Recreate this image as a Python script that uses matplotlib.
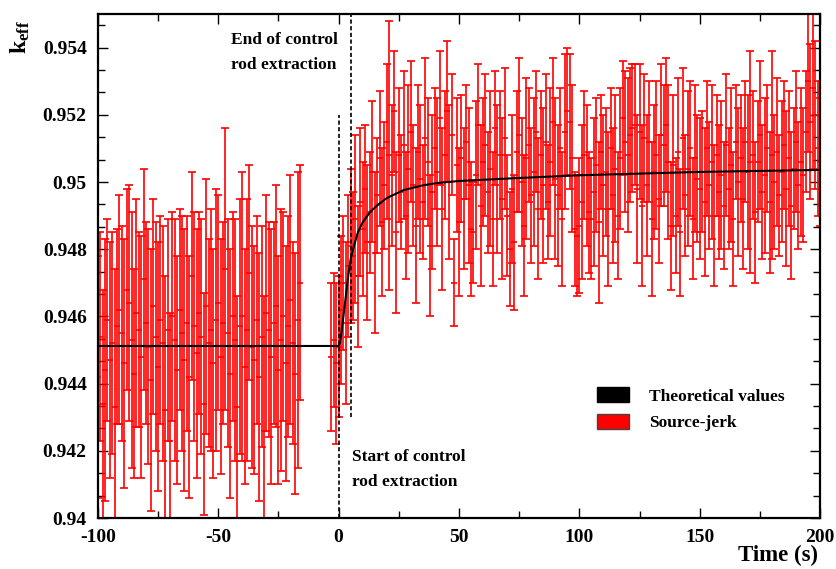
import numpy as np
import matplotlib
matplotlib.use("Agg")
import matplotlib.pyplot as plt
from matplotlib.patches import Patch
from matplotlib.ticker import MultipleLocator, FixedLocator

plt.rcParams['font.family'] = ['Liberation Serif', 'DejaVu Serif']
plt.rcParams['font.weight'] = 'bold'
plt.rcParams['axes.unicode_minus'] = False
plt.rcParams['mathtext.fontset'] = 'custom'
plt.rcParams['mathtext.rm'] = 'Liberation Serif:bold'
plt.rcParams['mathtext.it'] = 'Liberation Serif:bold'
plt.rcParams['mathtext.bf'] = 'Liberation Serif:bold'

# source-jerk results before the rod moves (t = -100 .. -16 s)
t_pre = np.arange(-100, -15)
k_pre = [
    0.9442, 0.9454, 0.9434, 0.9444, 0.9459, 0.9447, 0.9452, 0.9433, 0.9457, 0.9462,
    0.9455, 0.9446, 0.9468, 0.9464, 0.9453, 0.9443, 0.9461, 0.9456, 0.9448, 0.9471,
    0.9458, 0.9451, 0.9441, 0.9463, 0.9454, 0.9445, 0.9459, 0.9452, 0.9432, 0.9456,
    0.9423, 0.9460, 0.9453, 0.9444, 0.9462, 0.9455, 0.9447, 0.9458, 0.9442, 0.9472,
    0.9457, 0.9449, 0.9461, 0.9454, 0.9434, 0.9463, 0.9452, 0.9456, 0.9446, 0.9459,
    0.9464, 0.9448, 0.9458, 0.9474, 0.9455, 0.9443, 0.9460, 0.9453, 0.9433, 0.9457,
    0.9460, 0.9445, 0.9456, 0.9473, 0.9451, 0.9447, 0.9459, 0.9442, 0.9454, 0.9426,
    0.9461, 0.9456, 0.9448, 0.9458, 0.9463, 0.9444, 0.9453, 0.9460, 0.9446, 0.9457,
    0.9465, 0.9452, 0.9443, 0.9459, 0.9470,
]
err_pre = [
    0.0036, 0.0031, 0.0034, 0.0039, 0.0030, 0.0035, 0.0033, 0.0041, 0.0029, 0.0034,
    0.0032, 0.0037, 0.0030, 0.0035, 0.0038, 0.0031, 0.0034, 0.0029, 0.0036, 0.0033,
    0.0030, 0.0035, 0.0039, 0.0032, 0.0034, 0.0037, 0.0031, 0.0035, 0.0040, 0.0033,
    0.0038, 0.0031, 0.0036, 0.0034, 0.0030, 0.0035, 0.0039, 0.0032, 0.0036, 0.0031,
    0.0034, 0.0037, 0.0030, 0.0035, 0.0033, 0.0038, 0.0031, 0.0036, 0.0034, 0.0039,
    0.0032, 0.0035, 0.0030, 0.0042, 0.0034, 0.0037, 0.0031, 0.0036, 0.0033, 0.0038,
    0.0043, 0.0035, 0.0039, 0.0032, 0.0036, 0.0034, 0.0031, 0.0037, 0.0033, 0.0040,
    0.0035, 0.0032, 0.0038, 0.0030, 0.0036, 0.0034, 0.0039, 0.0031, 0.0035, 0.0033,
    0.0037, 0.0030, 0.0036, 0.0044, 0.0035,
]

# source-jerk results around and after the extraction (t = -3 .. 200 s)
t_post = np.arange(-3, 201)
k_post = [
    0.9448, 0.9453, 0.9446, 0.9451,
    0.9462, 0.9470, 0.9458, 0.9475, 0.9481, 0.9478, 0.9489, 0.9472, 0.9494, 0.9486,
    0.9498, 0.9482, 0.9491, 0.9503, 0.9479, 0.9496, 0.9507, 0.9488, 0.9499, 0.9512,
    0.9508, 0.9502, 0.9521, 0.9485, 0.9508, 0.9497, 0.9511, 0.9490, 0.9504, 0.9515,
    0.9499, 0.9487, 0.9509, 0.9501, 0.9494, 0.9513, 0.9506, 0.9481, 0.9497, 0.9510,
    0.9503, 0.9519, 0.9492, 0.9508, 0.9521, 0.9500, 0.9514, 0.9470, 0.9505, 0.9488,
    0.9507, 0.9495, 0.9512, 0.9499, 0.9486, 0.9485, 0.9502, 0.9517, 0.9493, 0.9506,
    0.9511, 0.9497, 0.9504, 0.9489, 0.9516, 0.9501, 0.9508, 0.9495, 0.9513, 0.9490,
    0.9480, 0.9498, 0.9482, 0.9509, 0.9514, 0.9500, 0.9487, 0.9507, 0.9511, 0.9496,
    0.9503, 0.9515, 0.9492, 0.9508, 0.9499, 0.9512, 0.9494, 0.9506, 0.9518, 0.9501,
    0.9496, 0.9510, 0.9489, 0.9515, 0.9521, 0.9518, 0.9507, 0.9486, 0.9484, 0.9487,
    0.9494, 0.9508, 0.9502, 0.9491, 0.9489, 0.9497, 0.9505, 0.9488, 0.9509, 0.9499,
    0.9503, 0.9492, 0.9510, 0.9496, 0.9504, 0.9490, 0.9507, 0.9519, 0.9512, 0.9508,
    0.9514, 0.9516, 0.9517, 0.9498, 0.9515, 0.9493, 0.9513, 0.9499, 0.9512, 0.9489,
    0.9503, 0.9508, 0.9495, 0.9514, 0.9511, 0.9517, 0.9506, 0.9487, 0.9505, 0.9490,
    0.9509, 0.9485, 0.9513, 0.9496, 0.9504, 0.9510, 0.9489, 0.9507, 0.9501, 0.9498,
    0.9503, 0.9494, 0.9510, 0.9499, 0.9506, 0.9490, 0.9508, 0.9497, 0.9502, 0.9493,
    0.9511, 0.9498, 0.9505, 0.9489, 0.9512, 0.9500, 0.9507, 0.9495, 0.9512, 0.9503,
    0.9506, 0.9508, 0.9491, 0.9506, 0.9514, 0.9497, 0.9502, 0.9510, 0.9494, 0.9508,
    0.9500, 0.9509, 0.9496, 0.9503, 0.9511, 0.9498, 0.9507, 0.9493, 0.9504, 0.9512,
    0.9499, 0.9506, 0.9502, 0.9515, 0.9530, 0.9518, 0.9528, 0.9520, 0.9510, 0.9506,
]
err_post = [
    0.0022, 0.0020, 0.0024, 0.0021,
    0.0022, 0.0020, 0.0024, 0.0021, 0.0023, 0.0019, 0.0025, 0.0021, 0.0022, 0.0020,
    0.0019, 0.0023, 0.0018, 0.0021, 0.0024, 0.0017, 0.0020, 0.0022, 0.0019, 0.0023,
    0.0040, 0.0021, 0.0018, 0.0024, 0.0020, 0.0017, 0.0022, 0.0019, 0.0025, 0.0021,
    0.0018, 0.0023, 0.0020, 0.0022, 0.0017, 0.0024, 0.0019, 0.0021, 0.0023, 0.0018,
    0.0022, 0.0020, 0.0024, 0.0019, 0.0021, 0.0023, 0.0018, 0.0013, 0.0020, 0.0022,
    0.0019, 0.0021, 0.0017, 0.0023, 0.0020, 0.0015, 0.0022, 0.0018, 0.0024, 0.0019,
    0.0021, 0.0018, 0.0023, 0.0020, 0.0017, 0.0022, 0.0019, 0.0024, 0.0021, 0.0018,
    0.0017, 0.0022, 0.0020, 0.0018, 0.0023, 0.0019, 0.0021, 0.0024, 0.0017, 0.0020,
    0.0022, 0.0018, 0.0021, 0.0019, 0.0023, 0.0020, 0.0017, 0.0022, 0.0019, 0.0024,
    0.0021, 0.0018, 0.0020, 0.0023, 0.0019, 0.0020, 0.0022, 0.0017, 0.0018, 0.0020,
    0.0023, 0.0019, 0.0021, 0.0018, 0.0018, 0.0022, 0.0020, 0.0024, 0.0017, 0.0021,
    0.0019, 0.0023, 0.0018, 0.0020, 0.0022, 0.0019, 0.0021, 0.0017, 0.0021, 0.0023,
    0.0020, 0.0019, 0.0018, 0.0022, 0.0020, 0.0024, 0.0019, 0.0021, 0.0018, 0.0023,
    0.0020, 0.0022, 0.0019, 0.0021, 0.0018, 0.0020, 0.0023, 0.0019, 0.0021, 0.0017,
    0.0022, 0.0019, 0.0021, 0.0018, 0.0023, 0.0020, 0.0018, 0.0022, 0.0019, 0.0021,
    0.0018, 0.0022, 0.0020, 0.0019, 0.0023, 0.0021, 0.0018, 0.0020, 0.0022, 0.0019,
    0.0021, 0.0018, 0.0023, 0.0020, 0.0017, 0.0022, 0.0019, 0.0021, 0.0018, 0.0023,
    0.0033, 0.0019, 0.0021, 0.0018, 0.0022, 0.0020, 0.0023, 0.0019, 0.0021, 0.0031,
    0.0020, 0.0022, 0.0018, 0.0021, 0.0019, 0.0023, 0.0020, 0.0022, 0.0018, 0.0021,
    0.0019, 0.0022, 0.0020, 0.0018, 0.0021, 0.0023, 0.0024, 0.0022, 0.0020, 0.0019,
]

# theoretical k_eff curve
t_theory = [-100, -50, 0, 0.5, 1, 2, 3, 4, 5, 6, 7, 8, 10, 13, 16, 20, 27, 35, 41,
            50, 75, 100, 150, 200]
k_theory = [0.94512, 0.94512, 0.94512, 0.94520, 0.94540, 0.94600, 0.94660, 0.94720,
            0.94770, 0.94800, 0.94825, 0.94850, 0.94880, 0.94910, 0.94930, 0.94952,
            0.94976, 0.94990, 0.94997, 0.95003, 0.95012, 0.95020, 0.95030, 0.95036]

t_start, t_end = 0.0, 5.0

fig = plt.figure(figsize=(8.36, 5.69), dpi=100)
ax = fig.add_axes([0.117, 0.0896, 0.864, 0.8858])

bar_kw = dict(fmt='_', color='red', ecolor='red', ms=5, mew=1.2,
              elinewidth=1.2, capsize=3, capthick=1.2, zorder=2)
ax.errorbar(t_pre, k_pre, yerr=err_pre, **bar_kw)
ax.errorbar(t_post, k_post, yerr=err_post, **bar_kw)
ax.plot(t_theory, k_theory, color='black', lw=1.5, zorder=4)

ax.plot([t_start, t_start], [0.940, 0.9520], color='black', ls=(0, (2.5, 1.5)),
        lw=1.2, zorder=5)
ax.plot([t_end, t_end], [0.9430, 0.9550], color='black', ls=(0, (2.5, 1.5)),
        lw=1.2, zorder=5)

ax.text(-44.5, 0.95385, "End of control\nrod extraction", fontsize=12.5, fontweight='bold',
        ha='left', va='center', linespacing=1.75)
ax.text(5.5, 0.94145, "Start of control\nrod extraction", fontsize=12.5, fontweight='bold',
        ha='left', va='center', linespacing=1.75)

ax.set_xlim(-100, 200)
ax.set_ylim(0.940, 0.955)
ax.xaxis.set_major_locator(MultipleLocator(50))
ax.xaxis.set_minor_locator(MultipleLocator(25))
ax.yaxis.set_major_locator(FixedLocator([0.940, 0.942, 0.944, 0.946, 0.948, 0.950, 0.952, 0.954]))
ax.yaxis.set_minor_locator(MultipleLocator(0.002 / 3))
ax.set_yticklabels(['0.94', '0.942', '0.944', '0.946', '0.948', '0.95', '0.952', '0.954'])
ax.tick_params(which='both', direction='in', top=True, right=True, labelsize=14, width=1.0)
ax.tick_params(which='major', length=7, pad=8)
ax.tick_params(which='minor', length=5)
for s in ax.spines.values():
    s.set_linewidth(1.6)

fig.text(0.978, 0.024, "Time (s)", fontsize=16.5, fontweight='bold', ha='right', va='center')
fig.text(0.024, 0.935, r"$\mathbf{k_{eff}}$", fontsize=17, rotation=90,
         ha='center', va='center')

handles = [Patch(facecolor='black', edgecolor='black', label='Theoretical values'),
           Patch(facecolor='red', edgecolor='#444444', label='Source-jerk')]
leg = ax.legend(handles=handles, loc='upper left', bbox_to_anchor=(0.67, 0.29),
                frameon=False, fontsize=12.5, handlelength=1.85, handleheight=0.95,
                handletextpad=1.1, labelspacing=0.5)

fig.savefig("out.png", dpi=100)
